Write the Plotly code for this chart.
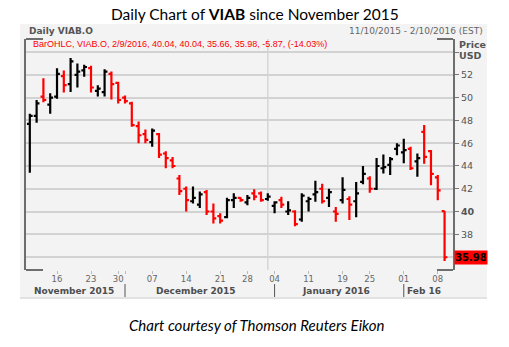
import plotly.graph_objects as go

# ---------------- data ----------------
dates = [
    "2015-11-10", "2015-11-11", "2015-11-12", "2015-11-13",
    "2015-11-16", "2015-11-17", "2015-11-18", "2015-11-19", "2015-11-20",
    "2015-11-23", "2015-11-24", "2015-11-25", "2015-11-27", "2015-11-30",
    "2015-12-01", "2015-12-02", "2015-12-03", "2015-12-04",
    "2015-12-07", "2015-12-08", "2015-12-09", "2015-12-10", "2015-12-11",
    "2015-12-14", "2015-12-15", "2015-12-16", "2015-12-17", "2015-12-18",
    "2015-12-21", "2015-12-22", "2015-12-23", "2015-12-24",
    "2015-12-28", "2015-12-29", "2015-12-30", "2015-12-31",
    "2016-01-04", "2016-01-05", "2016-01-06", "2016-01-07", "2016-01-08",
    "2016-01-11", "2016-01-12", "2016-01-13", "2016-01-14", "2016-01-15",
    "2016-01-19", "2016-01-20", "2016-01-21", "2016-01-22",
    "2016-01-25", "2016-01-26", "2016-01-27", "2016-01-28", "2016-01-29",
    "2016-02-01", "2016-02-02", "2016-02-03", "2016-02-04", "2016-02-05",
    "2016-02-08", "2016-02-09",
]
opens = [47.7, 48.4, 50.1, 49.4, 50.1, 51.9, 51.2, 52.0, 52.4, 52.6, 50.6, 50.5, 52.1, 51.3,
         50.0, 49.5, 47.5, 46.8, 46.1, 46.8, 45.1, 44.5, 42.9, 42.0, 40.9, 40.6, 41.7, 40.0,
         39.6, 39.5, 41.0, 41.2, 40.8, 41.6, 41.6, 41.1,
         40.5, 41.0, 40.0, 40.0, 39.3, 40.9, 41.5, 42.0, 41.2, 40.0, 41.0, 41.1, 40.9, 42.6,
         42.9, 42.0, 43.8, 44.1, 45.5,
         45.2, 45.5, 44.4, 47.0, 45.3, 43.0, 40.04]
highs = [48.6, 49.8, 51.7, 50.4, 52.6, 52.4, 53.5, 53.0, 52.9, 52.8, 51.1, 52.5, 52.3, 51.4,
         50.2, 49.65, 47.9, 47.2, 47.3, 46.9, 45.3, 44.8, 43.2, 42.2, 42.2, 41.75, 41.9, 40.7,
         39.85, 41.2, 41.6, 41.25, 41.45, 41.95, 41.75, 41.6,
         40.9, 41.3, 40.9, 40.1, 41.6, 41.3, 42.7, 42.45, 42.0, 40.4, 43.0, 41.35, 42.6, 44.0,
         43.1, 44.7, 45.0, 44.8, 46.0,
         46.4, 45.7, 45.1, 47.6, 45.4, 43.2, 40.04]
lows = [43.4, 47.8, 49.6, 48.6, 49.9, 50.45, 50.5, 50.9, 51.85, 50.45, 50.1, 50.1, 49.85, 49.5,
        49.5, 47.45, 46.0, 46.0, 45.7, 44.7, 43.8, 43.8, 41.45, 40.0, 40.7, 40.3, 39.7, 38.95,
        38.95, 39.4, 40.3, 40.85, 40.55, 41.0, 40.85, 40.95,
        39.85, 40.3, 39.7, 38.7, 39.1, 40.0, 40.85, 40.7, 40.4, 39.1, 40.7, 39.25, 39.5, 42.4,
        41.65, 41.9, 43.35, 43.2, 44.95,
        44.25, 43.65, 43.05, 44.2, 42.3, 41.0, 35.66]
closes = [48.4, 49.5, 49.8, 50.0, 52.1, 51.1, 53.2, 52.3, 52.7, 50.9, 50.8, 52.3, 51.2, 49.8,
          49.7, 47.6, 46.7, 46.3, 47.1, 45.0, 44.7, 44.0, 41.8, 41.0, 41.2, 41.5, 40.0, 39.4,
          39.2, 41.0, 41.2, 41.0, 41.2, 41.3, 41.0, 41.3,
          40.8, 40.6, 40.1, 38.9, 41.4, 41.1, 41.7, 40.9, 41.7, 39.8, 41.9, 40.6, 41.6, 43.3,
          42.0, 44.0, 43.9, 44.6, 45.8,
          45.4, 43.8, 44.7, 44.8, 43.3, 41.85, 35.98]

tick_dates = ["2015-11-16", "2015-11-23", "2015-11-30", "2015-12-01", "2015-12-07", "2015-12-14",
              "2015-12-21", "2015-12-28", "2016-01-04", "2016-01-11", "2016-01-19",
              "2016-01-25", "2016-02-01", "2016-02-08"]
tick_labels = ["16", "23", "30", "", "07", "14", "21", "28", "04", "11", "19", "25", "01", "08"]

month_keys = ["2015-11", "2015-12", "2016-01", "2016-02"]
month_labels = ["November 2015", "December 2015", "January 2016", "Feb 16"]

y_ticks = [36, 38, 40, 42, 44, 46, 48, 50, 52, 54]
y_labels = ["", "38", "<b>40</b>", "42", "44", "46", "48", "50", "52", ""]

legend_text = "BarOHLC, VIAB.O, 2/9/2016, 40.04, 40.04, 35.66, 35.98, -5.87, (-14.03%)"
last_price = closes[-1]

# ---------------- figure ----------------
W, H = 509, 347
ML, MR, MT, MB = 26, 56, 39, 77
pw = W - ML - MR
ph = H - MT - MB

def px_x(p):
    return (p - ML) / pw

def px_y(p):
    return (H - MB - p) / ph

fig = go.Figure()
fig.add_trace(go.Ohlc(
    x=dates, open=opens, high=highs, low=lows, close=closes,
    increasing=dict(line=dict(color="#000000", width=2.2)),
    decreasing=dict(line=dict(color="#ff0000", width=2.2)),
    tickwidth=0.42, showlegend=False, hoverinfo="skip",
))

shapes = []
# outer grey panel
shapes.append(dict(type="rect", xref="paper", yref="paper", layer="below",
                   x0=px_x(20), x1=px_x(487), y0=px_y(298), y1=px_y(24),
                   fillcolor="#f3f3f3", line=dict(width=0)))
shapes.append(dict(type="line", xref="paper", yref="paper", layer="below",
                   x0=px_x(20), x1=px_x(487), y0=px_y(298), y1=px_y(298),
                   line=dict(color="#e2e2e2", width=2)))
# year boundary gridline
shapes.append(dict(type="line", xref="x", yref="paper", layer="below",
                   x0=dates.index("2015-12-31"), x1=dates.index("2015-12-31"), y0=0, y1=1,
                   line=dict(color="#d6d6d6", width=1.5)))
# corner segments
for (xa, xb, yy) in [(26, 43, 39), (437, 453, 39), (26, 43, 270), (437, 453, 270)]:
    shapes.append(dict(type="line", xref="paper", yref="paper",
                       x0=px_x(xa), x1=px_x(xb), y0=px_y(yy), y1=px_y(yy),
                       line=dict(color="#6e6e6e", width=2)))

annotations = []
# month separators and labels
for key, lab in zip(month_keys, month_labels):
    idx = [i for i, d in enumerate(dates) if d.startswith(key)]
    first, last = idx[0], idx[-1]
    if first > 0:
        shapes.append(dict(type="line", xref="x", yref="paper",
                           x0=first, x1=first, y0=px_y(284), y1=px_y(297),
                           line=dict(color="#555555", width=1)))
    annotations.append(dict(xref="x", yref="paper", x=(first + last) / 2, y=px_y(291),
                            text="<b>" + lab + "</b>", showarrow=False,
                            font=dict(family="DejaVu Sans", size=9, color="#4d4d4d"),
                            xanchor="center", yanchor="middle"))

# title
annotations.append(dict(xref="paper", yref="paper", x=px_x(254.5), y=px_y(14),
                        text="Daily Chart of <b>VIAB</b> since November 2015", showarrow=False,
                        font=dict(family="Lato", size=15.5, color="#000000"),
                        xanchor="center", yanchor="middle"))
# caption
annotations.append(dict(xref="paper", yref="paper", x=px_x(257), y=px_y(325),
                        text="<i>Chart courtesy of Thomson Reuters Eikon</i>", showarrow=False,
                        font=dict(family="Lato", size=15, color="#000000"),
                        xanchor="center", yanchor="middle"))
# header texts
annotations.append(dict(xref="paper", yref="paper", x=px_x(27), y=px_y(31),
                        text="<b>Daily VIAB.O</b>", showarrow=False,
                        font=dict(family="DejaVu Sans", size=9, color="#555555"),
                        xanchor="left", yanchor="middle"))
annotations.append(dict(xref="paper", yref="paper", x=px_x(485), y=px_y(31),
                        text="11/10/2015 - 2/10/2016 (EST)", showarrow=False,
                        font=dict(family="DejaVu Sans", size=9, color="#666666"),
                        xanchor="right", yanchor="middle"))
annotations.append(dict(xref="paper", yref="paper", x=px_x(31), y=px_y(44),
                        text=legend_text, showarrow=False,
                        font=dict(family="Liberation Sans", size=9, color="#ff0000"),
                        xanchor="left", yanchor="middle"))
annotations.append(dict(xref="paper", yref="paper", x=px_x(457), y=px_y(44),
                        text="<b>Price</b>", showarrow=False,
                        font=dict(family="DejaVu Sans", size=9.5, color="#555555"),
                        xanchor="left", yanchor="middle"))
annotations.append(dict(xref="paper", yref="paper", x=px_x(457), y=px_y(56),
                        text="<b>USD</b>", showarrow=False,
                        font=dict(family="DejaVu Sans", size=9.5, color="#555555"),
                        xanchor="left", yanchor="middle"))
# last price box
annotations.append(dict(xref="paper", yref="y", x=px_x(454), y=last_price,
                        text="<b>%.2f</b>" % last_price, showarrow=False,
                        font=dict(family="DejaVu Sans", size=10, color="#000000"),
                        bgcolor="#ff0000", borderpad=1, width=30,
                        xanchor="left", yanchor="middle"))

fig.update_layout(
    width=W, height=H,
    margin=dict(l=ML, r=MR, t=MT, b=MB),
    paper_bgcolor="#ffffff",
    plot_bgcolor="#f7f7f7",
    shapes=shapes,
    annotations=annotations,
    xaxis=dict(
        type="category", categoryorder="array", categoryarray=dates,
        range=[-0.56, 62.24],
        rangeslider=dict(visible=False),
        tickmode="array", tickvals=tick_dates, ticktext=tick_labels,
        ticks="outside", ticklen=3, tickcolor="#bbbbbb",
        ticklabelstandoff=-2,
        tickfont=dict(family="DejaVu Sans", size=8.5, color="#666666"),
        showgrid=False, zeroline=False, showline=False,
    ),
    yaxis=dict(
        side="right", range=[34.86, 55.16],
        tickmode="array", tickvals=y_ticks, ticktext=y_labels,
        ticks="outside", ticklen=4, tickcolor="#777777",
        tickfont=dict(family="DejaVu Sans", size=9.5, color="#555555"),
        showgrid=True, gridcolor="#d2d2d2", gridwidth=1.5,
        showline=True, linecolor="#6e6e6e", linewidth=2, mirror=True,
        zeroline=False,
    ),
)

fig.write_html("out.html")
